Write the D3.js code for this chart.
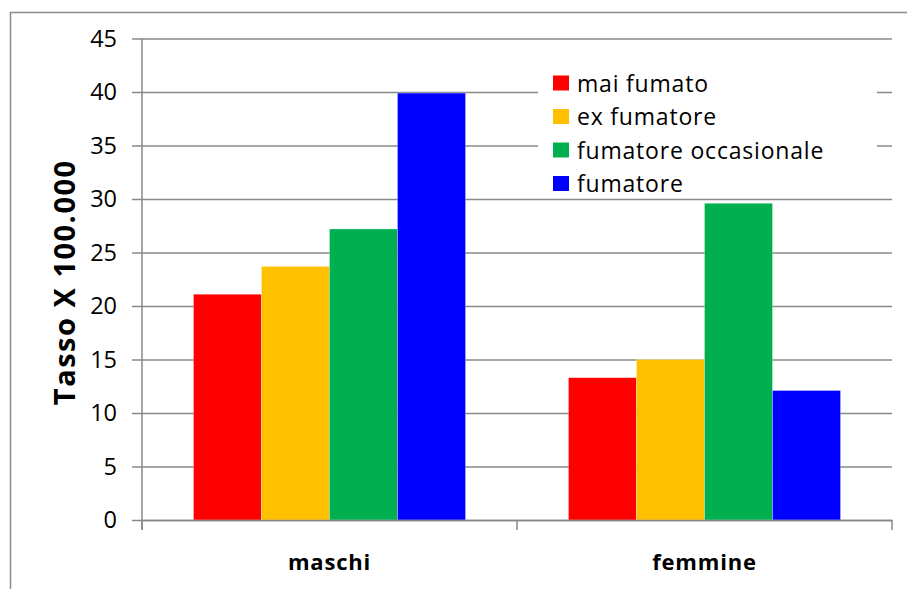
<!DOCTYPE html>
<html><head><meta charset="utf-8">
<script src="https://cdn.jsdelivr.net/npm/d3@7"></script>
<style>body{margin:0;background:#fff}svg{display:block}</style>
</head><body><svg id="c" width="907" height="589"></svg>
<script>
const categories = ["maschi", "femmine"];
const seriesNames = ["mai fumato", "ex fumatore", "fumatore occasionale", "fumatore"];
const seriesColors = ["#FF0000", "#FFC000", "#00B050", "#0000FF"];
const maiFumato = [21.1, 13.3];
const exFumatore = [23.7, 15.0];
const fumatoreOccasionale = [27.2, 29.6];
const fumatore = [39.9, 12.1];
const yTicks = [0, 5, 10, 15, 20, 25, 30, 35, 40, 45];
const yTitle = "Tasso X 100.000";

const values = [maiFumato, exFumatore, fumatoreOccasionale, fumatore];
const FONT = "'Open Sans', Carlito, Calibri, sans-serif";
const svg = d3.select("#c");
const pLeft = 142, pRight = 892, pTop = 38.5, pBottom = 520;

// outer chart border
svg.append("path").attr("d", "M10.5,589 V12.5 H907").attr("fill", "none")
  .attr("stroke", "#8c8c8c").attr("stroke-width", 1.5);

const x0 = d3.scaleBand().domain(categories).range([pLeft, pRight]).paddingInner(0).paddingOuter(0);
const x1 = d3.scaleBand().domain(seriesNames).range([0, x0.bandwidth()]).paddingInner(0).paddingOuter(0.757);
const y = d3.scaleLinear().domain([0, 45]).range([pBottom, pTop]);

// gridlines + y axis
const yAxis = d3.axisLeft(y).tickValues(yTicks).tickSize(-(pRight - pLeft)).tickSizeOuter(0).tickPadding(25);
const gy = svg.append("g").attr("transform", `translate(${pLeft},0)`).call(yAxis);
gy.select(".domain").remove();
gy.selectAll(".tick line").attr("x1", -10).attr("stroke", "#888").attr("stroke-width", 1.5);
gy.selectAll(".tick text").attr("font-family", FONT).attr("font-size", 23.5).attr("fill", "#000");

// legend background (hides gridlines)
const lg = svg.append("g");
lg.append("rect").attr("x", 538).attr("y", 63).attr("width", 339).attr("height", 132).attr("fill", "#fff");

// bars
const groups = svg.append("g").selectAll("g").data(categories).join("g")
  .attr("transform", d => `translate(${x0(d)},0)`);
groups.selectAll("rect").data((c, ci) => seriesNames.map((s, si) => ({s, si, v: values[si][ci]})))
  .join("rect")
  .attr("x", d => x1(d.s)).attr("width", x1.bandwidth())
  .attr("y", d => y(d.v)).attr("height", d => y(0) - y(d.v))
  .attr("fill", d => seriesColors[d.si])
  .attr("stroke", "rgba(255,255,255,0.35)").attr("stroke-width", 0.8);

// y axis line
svg.append("line").attr("x1", pLeft).attr("x2", pLeft).attr("y1", pTop).attr("y2", pBottom + 10)
  .attr("stroke", "#888").attr("stroke-width", 1.5);
// x axis
const xAxis = d3.axisBottom(x0).tickSize(0).tickPadding(0);
const gx = svg.append("g").attr("transform", `translate(0,${pBottom})`).call(xAxis);
gx.select(".domain").attr("stroke", "#888").attr("stroke-width", 1.5);
gx.selectAll(".tick text").attr("font-family", FONT).attr("font-size", 22).attr("font-weight", "bold")
  .attr("letter-spacing", 0.8).attr("fill", "#000").attr("dy", 0).attr("y", 50);
// category boundary ticks
const bounds = categories.map(c => x0(c)).concat([x0(categories[categories.length - 1]) + x0.bandwidth()]);
svg.append("g").selectAll("line").data(bounds).join("line")
  .attr("x1", d => d).attr("x2", d => d).attr("y1", pBottom).attr("y2", pBottom + 10)
  .attr("stroke", "#888").attr("stroke-width", 1.5);

// y title
svg.append("text").attr("transform", `translate(75,${(pTop + pBottom) / 2 + 3}) rotate(-90)`)
  .attr("text-anchor", "middle").attr("font-family", FONT).attr("font-size", 29)
  .attr("letter-spacing", 1.5).attr("font-weight", "bold").attr("fill", "#000").text(yTitle);

// legend items
const li = lg.selectAll("g.item").data(seriesNames).join("g").attr("class", "item")
  .attr("transform", (d, i) => `translate(553,${75.5 + i * 33.5})`);
li.append("rect").attr("width", 16).attr("height", 15).attr("fill", (d, i) => seriesColors[i]);
li.append("text").attr("x", 24).attr("y", 16).attr("font-family", FONT).attr("font-size", 23)
  .attr("letter-spacing", 0.8).attr("fill", "#000").text(d => d);
</script></body></html>
